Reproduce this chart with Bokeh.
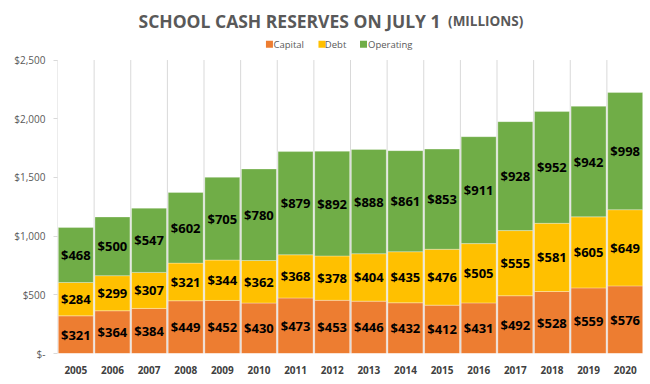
from bokeh.plotting import figure
from bokeh.models import ColumnDataSource, FixedTicker, Range1d
from bokeh.core.properties import value
from bokeh.embed import file_html
from bokeh.resources import INLINE

years = ["2005", "2006", "2007", "2008", "2009", "2010", "2011", "2012",
         "2013", "2014", "2015", "2016", "2017", "2018", "2019", "2020"]
capital = [321, 364, 384, 449, 452, 430, 473, 453, 446, 432, 412, 431, 492, 528, 559, 576]
debt = [284, 299, 307, 321, 344, 362, 368, 378, 404, 435, 476, 505, 555, 581, 605, 649]
operating = [468, 500, 547, 602, 705, 780, 879, 892, 888, 861, 853, 911, 928, 952, 942, 998]
series_names = ["Capital", "Debt", "Operating"]
colors = ["#ED7D31", "#FFC000", "#70AD47"]
y_ticks = [0, 500, 1000, 1500, 2000, 2500]
y_tick_labels = ["$-", "$500", "$1,000", "$1,500", "$2,000", "$2,500"]
title_main = "SCHOOL CASH RESERVES ON JULY 1"
title_sub = "(MILLIONS)"

n = len(years)
xs = [i + 0.5 for i in range(n)]
y_axis_max = y_ticks[-1]
y_view_max = 3007  # headroom for title and legend

p = figure(width=643, height=376, output_backend="svg", toolbar_location=None,
           x_range=Range1d(0, n), y_range=Range1d(0, y_view_max),
           min_border_left=57, min_border_right=0, min_border_bottom=20,
           min_border_top=0)
p.outline_line_color = None
p.background_fill_color = "white"
p.border_fill_color = "white"
p.xgrid.grid_line_color = None
p.ygrid.grid_line_color = None

# vertical category separators
p.segment(x0=list(range(n + 1)), y0=[0] * (n + 1), x1=list(range(n + 1)),
          y1=[y_axis_max] * (n + 1), line_color="#D9D9D9", line_width=1)

src = ColumnDataSource(dict(x=xs, Capital=capital, Debt=debt, Operating=operating))
rs = p.vbar_stack(series_names, x="x", width=0.955, source=src, color=colors,
                  line_color="white", line_width=0.5, line_alpha=0.6)

# value labels
lx, ly, lt = [], [], []
for i in range(n):
    base = 0
    for vals in (capital, debt, operating):
        v = vals[i]
        lx.append(xs[i])
        ly.append(base + v / 2)
        lt.append("$%d" % v)
        base += v
lsrc = ColumnDataSource(dict(x=lx, y=ly, t=lt))
p.text(x="x", y="y", text="t", source=lsrc, text_align="center",
       text_baseline="middle", text_font=value("Open Sans"),
       text_font_style="bold", text_font_size="13px", text_color="#000000")

# x axis
p.xaxis.ticker = FixedTicker(ticks=xs)
p.xaxis.major_label_overrides = {x: y for x, y in zip(xs, years)}
p.xaxis.axis_line_color = None
p.xaxis.major_tick_line_color = None
p.xaxis.minor_tick_line_color = None
p.xaxis.major_label_standoff = 6
p.xaxis.major_label_text_font = "Open Sans"
p.xaxis.major_label_text_font_style = "bold"
p.xaxis.major_label_text_font_size = "10px"
p.xaxis.major_label_text_color = "#404040"

# y axis
p.yaxis.ticker = FixedTicker(ticks=y_ticks)
p.yaxis.major_label_overrides = {t: l for t, l in zip(y_ticks, y_tick_labels)}
p.yaxis.axis_line_color = None
p.yaxis.major_tick_line_color = "#D9D9D9"
p.yaxis.major_tick_out = 4
p.yaxis.major_tick_in = 0
p.yaxis.minor_tick_line_color = None
p.yaxis.major_label_standoff = 8
p.yaxis.major_label_text_font = "Open Sans"
p.yaxis.major_label_text_font_size = "10px"
p.yaxis.major_label_text_color = "#595959"

# legend (drawn manually in the headroom)
leg_y = 2635
leg_sq_x = [5.787, 7.221, 8.355]
leg_tx_x = [5.896, 7.30, 8.478]
p.scatter(x=leg_sq_x, y=[leg_y] * 3, marker="square", size=7, color=colors,
          line_color=None)
p.text(x=leg_tx_x, y=[leg_y] * 3, text=series_names, text_align="left",
       text_baseline="middle", text_font=value("Open Sans"),
       text_font_size="9.5px", text_color="#595959")

# title
title_y = 2832
p.text(x=[10.459], y=[title_y], text=[title_main], text_align="right",
       text_baseline="alphabetic", text_font=value("Open Sans"),
       text_font_style="bold", text_font_size="17.5px", text_color="#595959")
p.text(x=[10.664], y=[title_y], text=[title_sub], text_align="left",
       text_baseline="alphabetic", text_font=value("Open Sans"),
       text_font_style="bold", text_font_size="13.5px", text_color="#595959")

open("out.html", "w").write(file_html(p, INLINE))
